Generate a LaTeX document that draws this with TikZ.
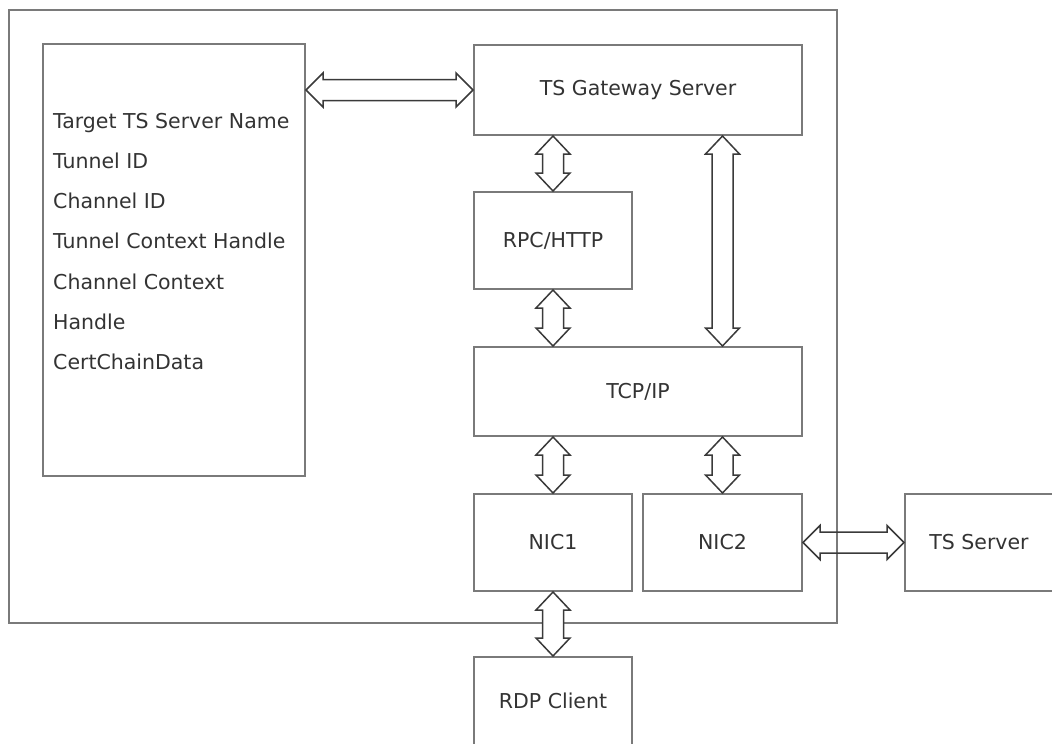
\documentclass[tikz,border=0pt]{standalone}
\usepackage{fontspec}
\setmainfont{DejaVu Sans}
\usetikzlibrary{calc}
\definecolor{boxline}{HTML}{7A7A7A}
\definecolor{arrline}{HTML}{3A3A3A}
\definecolor{txt}{HTML}{333333}
\tikzset{
  box/.style={draw=boxline, line width=2pt, rectangle, inner sep=0pt, text=txt, font=\fontsize{20.5}{24}\selectfont},
  lbl/.style={inner sep=0pt, anchor=base west, text=txt, font=\fontsize{20.5}{24}\selectfont},
  dblarr/.style={draw=arrline, line width=1.5pt, fill=white, line join=miter},
  dblarrnf/.style={draw=arrline, line width=1.5pt, line join=miter},
}
\newcommand{\harrow}[3][dblarr]{\path[#1] let \p1=(#2), \p2=(#3) in
  (\x1,\y1) -- (\x1+17pt,\y1+17pt) -- (\x1+17pt,\y1+10.5pt) -- (\x2-17pt,\y1+10.5pt) -- (\x2-17pt,\y1+17pt) -- (\x2,\y1)
  -- (\x2-17pt,\y1-17pt) -- (\x2-17pt,\y1-10.5pt) -- (\x1+17pt,\y1-10.5pt) -- (\x1+17pt,\y1-17pt) -- cycle;}
\newcommand{\varrow}[3][dblarr]{\path[#1] let \p1=(#2), \p2=(#3) in
  (\x1,\y1) -- (\x1+17pt,\y1-18pt) -- (\x1+10.5pt,\y1-18pt) -- (\x1+10.5pt,\y2+18pt) -- (\x1+17pt,\y2+18pt) -- (\x1,\y2)
  -- (\x1-17pt,\y2+18pt) -- (\x1-10.5pt,\y2+18pt) -- (\x1-10.5pt,\y1-18pt) -- (\x1-17pt,\y1-18pt) -- cycle;}
\begin{document}
\begin{tikzpicture}[x=1pt,y=-1pt]
\useasboundingbox (0,0) rectangle (1052,744);
% outer frame
\node[box, minimum width=828pt, minimum height=613pt] (outer) at (423,316.5) {};
% left info box
\node[box, minimum width=262pt, minimum height=432pt] (left) at (174,260) {};
\node[lbl] (l1) at (53,128) {Target TS Server Name};
\node[lbl] (l2) at (53,168.3) {Tunnel ID};
\node[lbl] (l3) at (53,208.6) {Channel ID};
\node[lbl] (l4) at (53,248.9) {Tunnel Context Handle};
\node[lbl] (l5) at (53,289.2) {Channel Context};
\node[lbl] (l6) at (53,329.5) {Handle};
\node[lbl] (l7) at (53,369.8) {CertChainData};
% component boxes
\node[box, minimum width=328pt, minimum height=90pt] (tsg) at (638,90) {TS Gateway Server};
\node[box, minimum width=158pt, minimum height=97pt] (rpc) at (553,240.5) {RPC/HTTP};
\node[box, minimum width=328pt, minimum height=89pt] (tcp) at (638,391.5) {TCP/IP};
\node[box, minimum width=158pt, minimum height=97pt] (nic1) at (553,542.5) {NIC1};
\node[box, minimum width=159pt, minimum height=97pt] (nic2) at (722.5,542.5) {NIC2};
\node[box, minimum width=160pt, minimum height=97pt] (ts) at (985,542.5) {};
\node[text=txt, font=\fontsize{20.5}{24}\selectfont, inner sep=0pt] (tslbl) at (979,542.5) {TS Server};
\node[box, minimum width=158pt, minimum height=88pt] (rdp) at (553,701) {RDP Client};
% connectors
\harrow{tsg.west -| left.east}{tsg.west}
\varrow{rpc.north |- tsg.south}{rpc.north}
\varrow{rpc.south}{rpc.south |- tcp.north}
\varrow{nic2.north |- tsg.south}{nic2.north |- tcp.north}
\varrow{nic1.north |- tcp.south}{nic1.north}
\varrow{nic2.north |- tcp.south}{nic2.north}
\varrow{nic1.south}{rdp.north}
\harrow[dblarrnf]{nic2.east}{nic2.east -| ts.west}
\end{tikzpicture}
\end{document}
